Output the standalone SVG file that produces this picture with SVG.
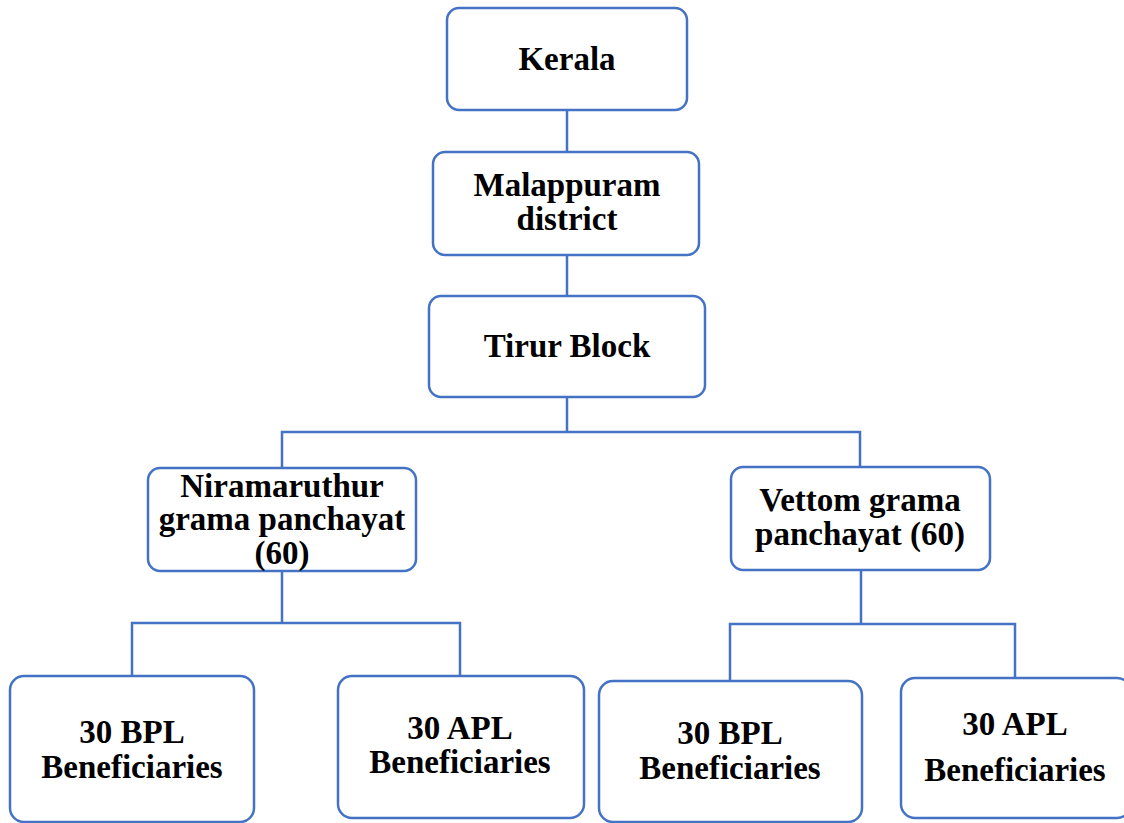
<svg xmlns="http://www.w3.org/2000/svg" width="1124" height="823" viewBox="0 0 1124 823">
<style>
.box{fill:#fff;stroke:#4472C4;stroke-width:2.5}
.conn{fill:none;stroke:#4472C4;stroke-width:2.5}
text{font-family:"Liberation Serif","Times New Roman",serif;font-weight:bold;font-size:33px;fill:#000;text-anchor:middle}
</style>
<rect width="1124" height="823" fill="#fff"/>
<g id="connectors">
<path class="conn" d="M567 110V152M567 255V296"/>
<path class="conn" d="M567 397V432H282V468M567 432H860V467"/>
<path class="conn" d="M282 571V623H132V676M282 623H460V676"/>
<path class="conn" d="M861 570V624H730V681M861 624H1015V678"/>
</g>
<g id="kerala"><rect class="box" x="447" y="8" width="240" height="102" rx="12"/><text x="567" y="70">Kerala</text></g>
<g id="malappuram"><rect class="box" x="433" y="152" width="266" height="103" rx="12"/><text x="567" y="196">Malappuram</text><text x="567" y="230">district</text></g>
<g id="tirur"><rect class="box" x="429" y="296" width="276" height="101" rx="12"/><text x="567" y="357">Tirur Block</text></g>
<g id="niramaruthur"><rect class="box" x="148" y="468" width="268" height="103" rx="12"/><text x="282" y="497">Niramaruthur</text><text x="282" y="530">grama panchayat</text><text x="282" y="564">(60)</text></g>
<g id="vettom"><rect class="box" x="731" y="467" width="259" height="103" rx="12"/><text x="860" y="511">Vettom grama</text><text x="860" y="545">panchayat (60)</text></g>
<g id="bpl1"><rect class="box" x="10" y="676" width="244" height="146" rx="14"/><text x="132" y="743">30 BPL</text><text x="132" y="778">Beneficiaries</text></g>
<g id="apl1"><rect class="box" x="338" y="676" width="246" height="142" rx="14"/><text x="460" y="739">30 APL</text><text x="460" y="773">Beneficiaries</text></g>
<g id="bpl2"><rect class="box" x="599" y="681" width="263" height="141" rx="14"/><text x="730" y="744">30 BPL</text><text x="730" y="779">Beneficiaries</text></g>
<g id="apl2"><rect class="box" x="901" y="678" width="230" height="140" rx="14"/><text x="1015" y="735">30 APL</text><text x="1015" y="781">Beneficiaries</text></g>
</svg>
